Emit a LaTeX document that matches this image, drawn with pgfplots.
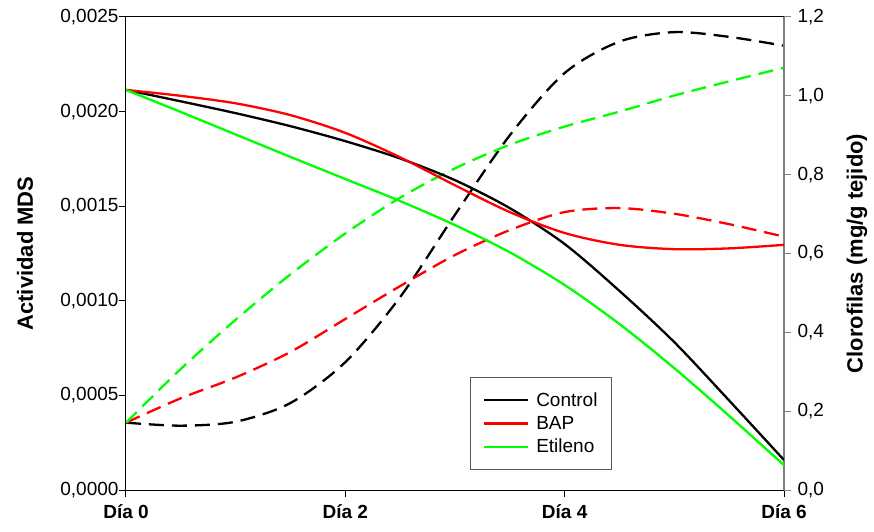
\documentclass[border=0pt]{standalone}
\usepackage{fontspec}
\setmainfont{Liberation Sans}
\usepackage{pgfplots}
\usepackage{pgfplotstable}
\pgfplotsset{compat=1.18}

\definecolor{etgreen}{RGB}{0,255,0}
\definecolor{bapred}{RGB}{255,0,0}

% Chlorophyll content (mg/g tissue), right axis
\pgfplotstableread{
dia  ctrl   bap    etil
0    1.015  1.015  1.015
0.5  0.986  1.000  0.959
1    0.956  0.981  0.902
1.5  0.923  0.951  0.845
2    0.885  0.906  0.789
2.5  0.841  0.844  0.733
3    0.786  0.773  0.672
3.5  0.715  0.705  0.603
4    0.624  0.652  0.520
4.5  0.505  0.622  0.421
5    0.375  0.611  0.309
5.5  0.227  0.613  0.188
6    0.076  0.622  0.063
}\clorofilas

% MDS activity, left axis
\pgfplotstableread{
dia  ctrl      bap       etil
0    0.000356  0.000356  0.000356
0.5  0.000340  0.000485  0.000640
1    0.000361  0.000595  0.000900
1.5  0.000460  0.000730  0.001140
2    0.000676  0.000904  0.001356
2.5  0.001020  0.001078  0.001545
3    0.001455  0.001242  0.001700
3.5  0.001875  0.001374  0.001825
4    0.002204  0.001469  0.001921
4.5  0.002370  0.001490  0.002000
5    0.002420  0.001460  0.002085
5.5  0.002395  0.001405  0.002160
6    0.002348  0.001339  0.002232
}\mds

\pgfplotsset{
  common/.style={
    scale only axis, width=658pt, height=473pt,
    xmin=0, xmax=6,
    tick align=outside, major tick length=7pt,
    ticklabel style={font=\fontsize{19}{22}\selectfont},
    label style={font=\fontsize{22}{26}\selectfont\bfseries},
    scaled y ticks=false,
  },
  dashedcurve/.style={smooth, line width=2.3pt, dash pattern=on 15pt off 8pt},
  solidcurve/.style={smooth, line width=2.3pt},
}

\begin{document}
\begin{tikzpicture}
\begin{axis}[
  common,
  name=mds,
  ymin=0, ymax=0.0025,
  axis line style={line width=1pt},
  xtick={0,2,4,6},
  xticklabels={Día 0, Día 2, Día 4, Día 6},
  xticklabel style={font=\fontsize{19}{22}\selectfont\bfseries, yshift=-4pt},
  ytick={0,0.0005,0.001,0.0015,0.002,0.0025},
  xtick pos=bottom, ytick pos=left,
  tick style={black, line width=1pt},
  yticklabel style={xshift=3pt, /pgf/number format/.cd, fixed, fixed zerofill, precision=4, use comma, assume math mode=true},
  ylabel={Actividad MDS},
  ylabel style={at={(axis description cs:-0.1535,0.5)}, anchor=center},
]
\addplot[dashedcurve, black]   table[x=dia, y=ctrl] {\mds};
\addplot[dashedcurve, bapred]  table[x=dia, y=bap]  {\mds};
\addplot[dashedcurve, etgreen] table[x=dia, y=etil] {\mds};
\end{axis}

\begin{axis}[
  common,
  ymin=0, ymax=1.2,
  axis x line=none,
  axis y line*=right,
  y axis line style={-, gray, line width=1.2pt},
  ytick={0,0.2,0.4,0.6,0.8,1.0,1.2},
  ytick style={gray, line width=1pt},
  yticklabel style={xshift=3pt, /pgf/number format/.cd, fixed, fixed zerofill, precision=1, use comma, assume math mode=true},
  ylabel={Clorofilas (mg/g tejido)},
  ylabel style={at={(axis description cs:1.1109,0.5)}, anchor=center},
  legend cell align=left,
  legend image code/.code={\draw[#1, line width=2.3pt] (0pt,0pt) -- (44pt,0pt);},
  legend style={at={(axis description cs:0.7386,0.0423)}, anchor=south east,
    draw=gray!70!black, line width=1pt, font=\fontsize{19}{22}\selectfont,
    inner xsep=12pt, inner ysep=13pt, row sep=4.5pt, column sep=5pt,
    nodes={inner sep=2pt}},
]
\addplot[solidcurve, black]   table[x=dia, y=ctrl] {\clorofilas};
\addlegendentry{Control}
\addplot[solidcurve, bapred]  table[x=dia, y=bap]  {\clorofilas};
\addlegendentry{BAP}
\addplot[solidcurve, etgreen] table[x=dia, y=etil] {\clorofilas};
\addlegendentry{Etileno}
\end{axis}

\path (mds.south west) ++(-126pt,-41pt) rectangle ++(874pt,531pt);
\end{tikzpicture}
\end{document}
